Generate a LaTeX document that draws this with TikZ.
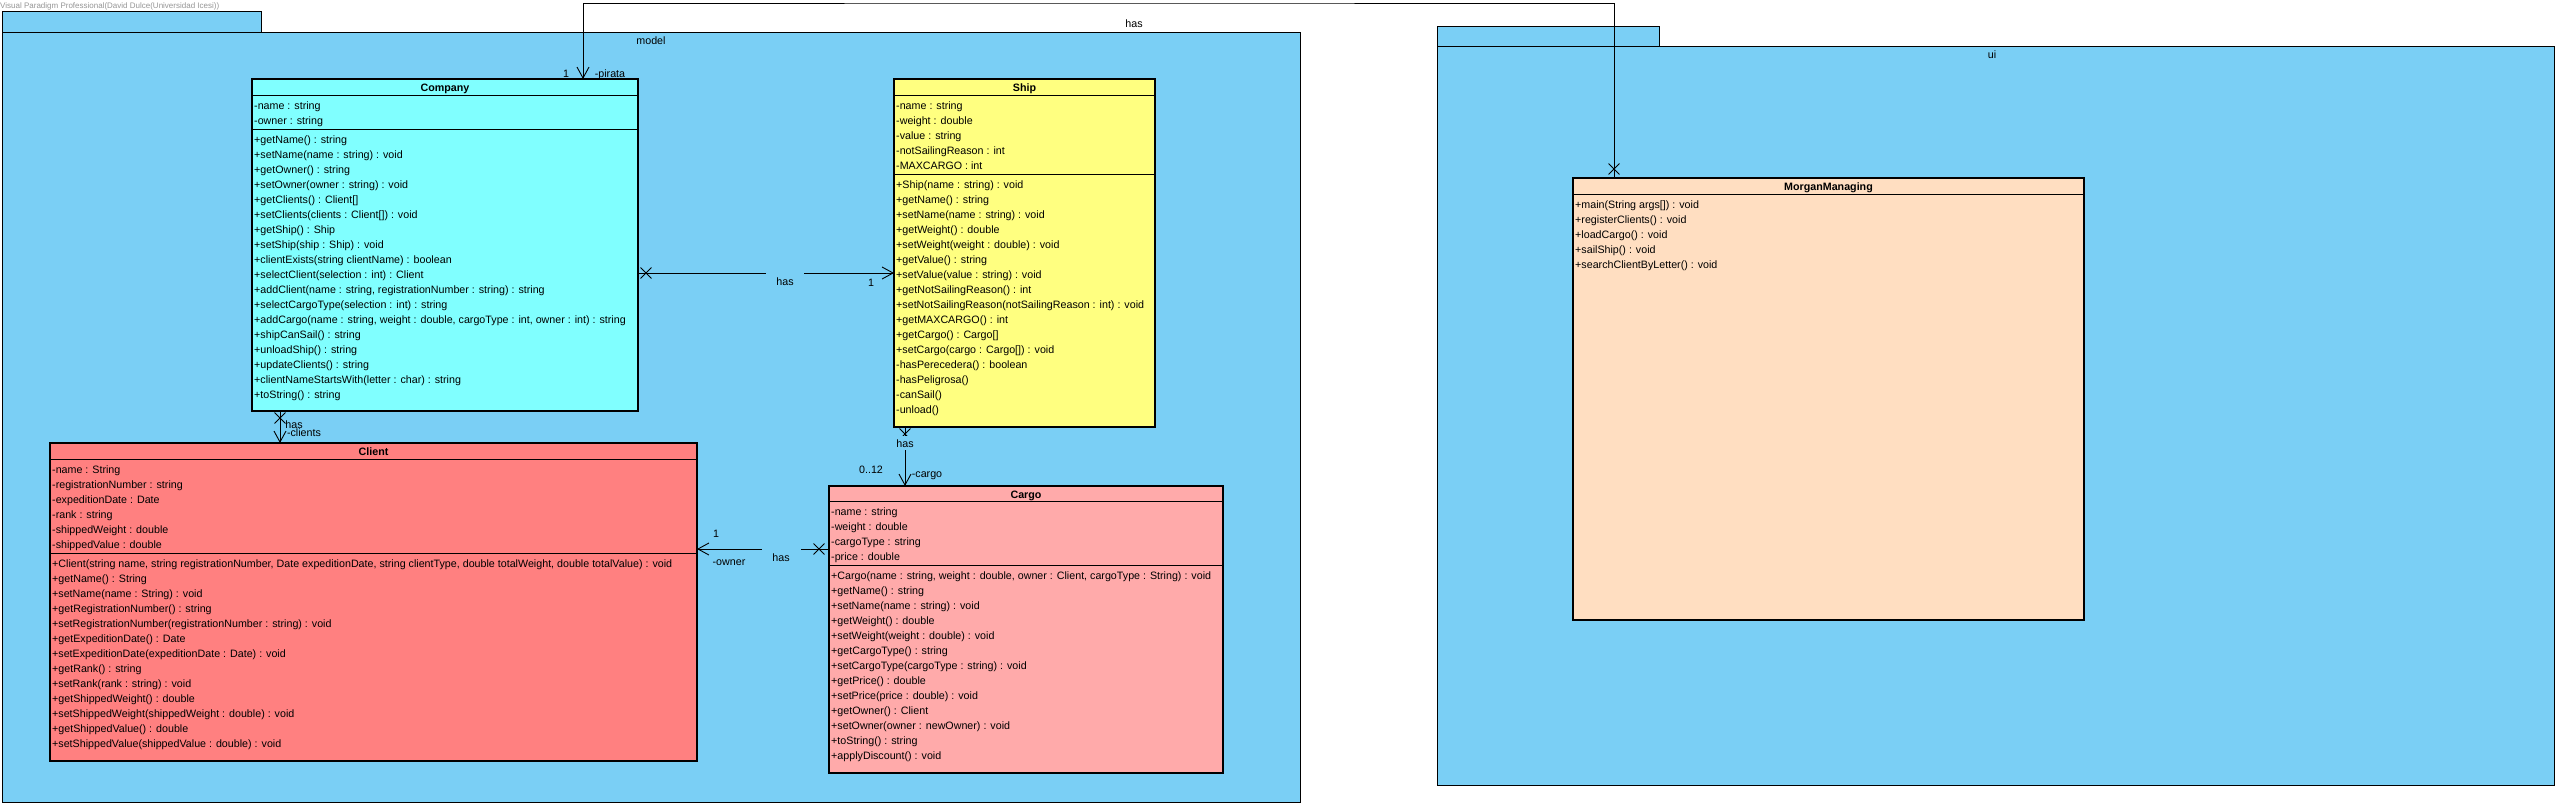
\documentclass[tikz,border=0pt]{standalone}
\usepackage{fontspec}
\setmainfont{Liberation Sans}
\usetikzlibrary{arrows.meta,shapes.misc}
\definecolor{pkgblue}{RGB}{122,207,245}
\definecolor{compcol}{RGB}{128,255,255}
\definecolor{shipcol}{RGB}{255,255,128}
\definecolor{clientcol}{RGB}{255,128,128}
\definecolor{cargocol}{RGB}{255,170,170}
\definecolor{morgancol}{RGB}{255,222,193}
\definecolor{wmgrey}{RGB}{150,150,150}
\newcommand\classrows[4]{\foreach \mytxt [count=\myi from 0] in {#4}{\node[rowtxt] (#1\myi) at (#2,{#3+4+15*\myi}) {\mytxt};}}
\begin{document}
\begin{tikzpicture}[x=1pt,y=-1pt,
  pkgbox/.style={draw=black, line width=1pt, fill=pkgblue},
  classbox/.style={draw=black, line width=1.1pt, anchor=north west, inner sep=0pt, outer sep=0pt},
  sepline/.style={line width=1pt},
  rowtxt/.style={anchor=base west, inner sep=0pt, font=\fontsize{10.7}{13}\selectfont},
  hdr/.style={anchor=base, inner sep=0pt, font=\fontsize{10.7}{13}\selectfont\bfseries},
  lbl/.style={anchor=base, inner sep=0pt, font=\fontsize{10.7}{13}\selectfont},
  lblfill/.style={lbl, fill=pkgblue},
  conn/.style={line width=0.9pt, -{Straight Barb[length=11pt,width=12pt]}},
  xmk/.style={draw, cross out, line width=0.9pt, minimum size=10pt, inner sep=0pt}]
\useasboundingbox (0,0) rectangle (2558,807);
\fill[white] (0,0) rectangle (2558,807);
% watermark
\node[anchor=base west, inner sep=0pt, text=wmgrey, font=\fontsize{8}{10}\selectfont] (wm) at (0,8) {Visual Paradigm Professional(David Dulce(Universidad Icesi))};
% packages
\draw[pkgbox] (2,11) rectangle (261,32);
\draw[pkgbox] (2,32) rectangle (1300,802);
\node[lbl] (modellbl) at (651,44) {model};
\draw[pkgbox] (1437,26) rectangle (1659,46);
\draw[pkgbox] (1437,46) rectangle (2554,785);
\node[lbl] (uilbl) at (1992,58) {ui};
% ---------- Company
\node[classbox, fill=compcol, minimum width=386pt, minimum height=332pt] (company) at (252,79) {};
\node[hdr] (companyh) at ([yshift=-12pt]company.north) {Company};
\draw[sepline] ([yshift=-16pt]company.north west) -- ([yshift=-16pt]company.north east);
\draw[sepline] ([yshift=-50pt]company.north west) -- ([yshift=-50pt]company.north east);
\classrows{coa}{254}{105}{{-name : string},{-owner : string}}
\classrows{com}{254}{139}{{+getName() : string},{+setName(name : string) : void},{+getOwner() : string},{+setOwner(owner : string) : void},{+getClients() : Client[]},{+setClients(clients : Client[]) : void},{+getShip() : Ship},{+setShip(ship : Ship) : void},{+clientExists(string clientName) : boolean},{+selectClient(selection : int) : Client},{+addClient(name : string, registrationNumber : string) : string},{+selectCargoType(selection : int) : string},{+addCargo(name : string, weight : double, cargoType : int, owner : int) : string},{+shipCanSail() : string},{+unloadShip() : string},{+updateClients() : string},{+clientNameStartsWith(letter : char) : string},{+toString() : string}}
% ---------- Ship
\node[classbox, fill=shipcol, minimum width=261pt, minimum height=348pt] (ship) at (894,79) {};
\node[hdr] (shiph) at ([yshift=-12pt]ship.north) {Ship};
\draw[sepline] ([yshift=-16pt]ship.north west) -- ([yshift=-16pt]ship.north east);
\draw[sepline] ([yshift=-95pt]ship.north west) -- ([yshift=-95pt]ship.north east);
\classrows{sha}{896}{105}{{-name : string},{-weight : double},{-value : string},{-notSailingReason : int},{-MAXCARGO : int}}
\classrows{shm}{896}{184}{{+Ship(name : string) : void},{+getName() : string},{+setName(name : string) : void},{+getWeight() : double},{+setWeight(weight : double) : void},{+getValue() : string},{+setValue(value : string) : void},{+getNotSailingReason() : int},{+setNotSailingReason(notSailingReason : int) : void},{+getMAXCARGO() : int},{+getCargo() : Cargo[]},{+setCargo(cargo : Cargo[]) : void},{-hasPerecedera() : boolean},{-hasPeligrosa()},{-canSail()},{-unload()}}
% ---------- Client
\node[classbox, fill=clientcol, minimum width=647pt, minimum height=318pt] (client) at (50,443) {};
\node[hdr] (clienth) at ([yshift=-12pt]client.north) {Client};
\draw[sepline] ([yshift=-16pt]client.north west) -- ([yshift=-16pt]client.north east);
\draw[sepline] ([yshift=-110pt]client.north west) -- ([yshift=-110pt]client.north east);
\classrows{cla}{52}{469}{{-name : String},{-registrationNumber : string},{-expeditionDate : Date},{-rank : string},{-shippedWeight : double},{-shippedValue : double}}
\classrows{clm}{52}{563}{{+Client(string name, string registrationNumber, Date expeditionDate, string clientType, double totalWeight, double totalValue) : void},{+getName() : String},{+setName(name : String) : void},{+getRegistrationNumber() : string},{+setRegistrationNumber(registrationNumber : string) : void},{+getExpeditionDate() : Date},{+setExpeditionDate(expeditionDate : Date) : void},{+getRank() : string},{+setRank(rank : string) : void},{+getShippedWeight() : double},{+setShippedWeight(shippedWeight : double) : void},{+getShippedValue() : double},{+setShippedValue(shippedValue : double) : void}}
% ---------- Cargo
\node[classbox, fill=cargocol, minimum width=394pt, minimum height=287pt] (cargo) at (829,486) {};
\node[hdr] (cargoh) at ([yshift=-12pt]cargo.north) {Cargo};
\draw[sepline] ([yshift=-15pt]cargo.north west) -- ([yshift=-15pt]cargo.north east);
\draw[sepline] ([yshift=-79pt]cargo.north west) -- ([yshift=-79pt]cargo.north east);
\classrows{caa}{831}{511}{{-name : string},{-weight : double},{-cargoType : string},{-price : double}}
\classrows{cam}{831}{575}{{+Cargo(name : string, weight : double, owner : Client, cargoType : String) : void},{+getName() : string},{+setName(name : string) : void},{+getWeight() : double},{+setWeight(weight : double) : void},{+getCargoType() : string},{+setCargoType(cargoType : string) : void},{+getPrice() : double},{+setPrice(price : double) : void},{+getOwner() : Client},{+setOwner(owner : newOwner) : void},{+toString() : string},{+applyDiscount() : void}}
% ---------- MorganManaging
\node[classbox, fill=morgancol, minimum width=511pt, minimum height=442pt] (morgan) at (1573,178) {};
\node[hdr] (morganh) at ([yshift=-12pt]morgan.north) {MorganManaging};
\draw[sepline] ([yshift=-16pt]morgan.north west) -- ([yshift=-16pt]morgan.north east);
\classrows{mom}{1575}{204}{{+main(String args[]) : void},{+registerClients() : void},{+loadCargo() : void},{+sailShip() : void},{+searchClientByLetter() : void}}
% ---------- connectors
% Company -> Ship
\draw[conn] ([yshift=-194pt]company.north east) -- ([yshift=-194pt]ship.north west);
\node[xmk] (x1) at (646,273) {};
\node[lblfill, minimum width=38pt, minimum height=20pt] (l1has) at (785,285) {has};
\node[lbl] (l1m) at (871,286) {1};
% Ship -> Cargo
\draw[conn] ([xshift=11pt]ship.south west) -- ([xshift=76pt]cargo.north west);
\node[xmk] (x2) at (905,434) {};
\node[lblfill, minimum width=24pt, minimum height=14pt] (l2has) at (905,447) {has};
\node[lbl] (l2m) at (871,473) {0..12};
\node[lbl] (l2r) at (927,477) {-cargo};
% Cargo -> Client
\draw[conn] ([yshift=-63pt]cargo.north west) -- ([yshift=-106pt]client.north east);
\node[xmk] (x3) at (819,549) {};
\node[lblfill, minimum width=39pt, minimum height=22pt] (l3has) at (781,561) {has};
\node[lbl] (l3m) at (716,537) {1};
\node[lbl] (l3r) at (729,565) {-owner};
% Company -> Client
\draw[conn] ([xshift=28pt]company.south west) -- ([xshift=230pt]client.north west);
\node[xmk] (x4) at (280,418) {};
\node[lbl] (l4has) at (294,428) {has};
\node[lbl] (l4r) at (304,436) {-clients};
% MorganManaging -> Company
\coordinate (topbend) at (1100,3);
\draw[conn] ([xshift=41pt]morgan.north west) |- (topbend) -| ([xshift=331pt]company.north west);
\node[xmk] (x5) at (1614,169) {};
\node[lbl] (l5has) at (1134,27) {has};
\node[lbl] (l5m) at (566,77) {1};
\node[lbl] (l5r) at (610,77) {-pirata};
\end{tikzpicture}
\end{document}
